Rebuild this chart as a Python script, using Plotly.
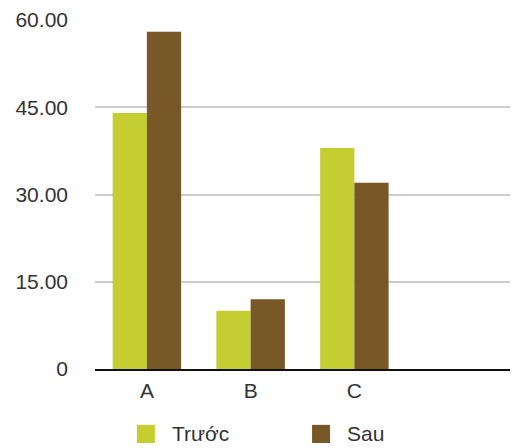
import plotly.graph_objects as go

categories = ["A", "B", "C", " "]
series_names = ["Trước", "Sau"]
truoc_values = [44, 10, 38, None]
sau_values = [58, 12, 32, None]
series_colors = ["#C4CE30", "#785826"]
y_tick_vals = [0, 15, 30, 45, 60]
y_tick_text = ["0", "15.00", "30.00", "45.00", "60.00"]

fig = go.Figure()
for name, vals, color in zip(series_names, [truoc_values, sau_values], series_colors):
    fig.add_trace(go.Bar(x=categories, y=vals, name=name, marker_color=color,
                         marker_line_width=0, showlegend=False))

# hand-built legend: square swatch + label
swatch_x = [0.101, 0.523]
label_x = [0.181, 0.602]
for name, color, sx, lx in zip(series_names, series_colors, swatch_x, label_x):
    fig.add_shape(type="rect", xref="paper", yref="paper",
                  x0=sx, x1=sx + 0.0434, y0=-0.160, y1=-0.212,
                  fillcolor=color, line_width=0)
    fig.add_annotation(text=name, xref="paper", yref="paper",
                       x=lx, y=-0.186, xanchor="left", yanchor="middle",
                       showarrow=False, font=dict(size=21, color="#333333"))

fig.update_layout(
    width=515, height=448,
    margin=dict(l=95, r=5, t=20, b=79),
    paper_bgcolor="white", plot_bgcolor="white",
    barmode="group", bargap=0.34, bargroupgap=0,
    font=dict(family="Liberation Sans, Arial, sans-serif", size=21, color="#333333"),
    xaxis=dict(showline=True, linecolor="#111111", linewidth=2, ticks="",
               showgrid=False, ticklabelstandoff=2, zeroline=False),
    yaxis=dict(range=[0, 60], tickvals=y_tick_vals, ticktext=y_tick_text,
               showgrid=True, gridcolor="#cccccc", gridwidth=1.5,
               zeroline=False, showline=False, ticks="", ticklabelstandoff=26),
)

fig.write_html("out.html")
